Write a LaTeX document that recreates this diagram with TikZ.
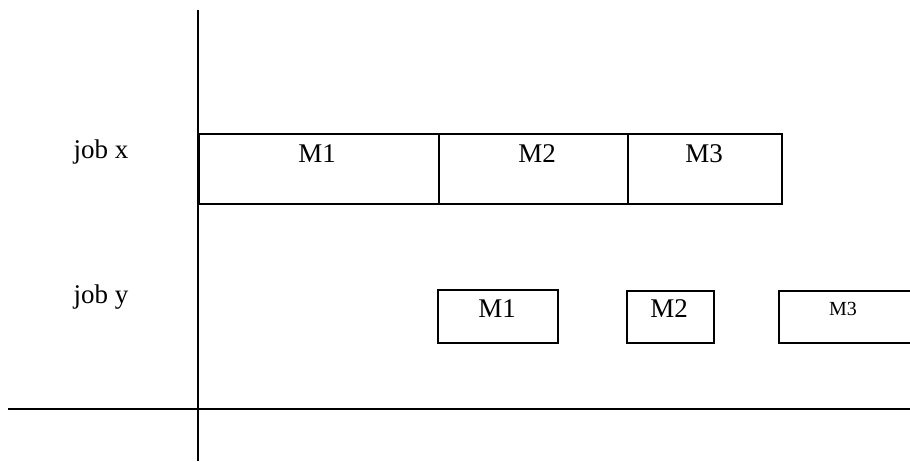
\documentclass[tikz,border=0pt]{standalone}
\usepackage{fontspec}
\setmainfont{Liberation Serif}
\begin{document}
\begin{tikzpicture}[x=1pt,y=-1pt,
  ln/.style={line width=2.2pt,black},
  bx/.style={draw,line width=2pt,inner sep=0pt,anchor=north west},
  lab/.style={font=\fontsize{27}{27}\selectfont,inner sep=0pt,anchor=base},
  smlab/.style={font=\fontsize{20}{20}\selectfont,inner sep=0pt,anchor=base}]
\useasboundingbox (0,0) rectangle (910,461);
\clip (0,0) rectangle (910,461);
% axes
\coordinate (vt) at (198,10);
\coordinate (vb) at (198,461);
\coordinate (hl) at (8,409);
\coordinate (hr) at (910,409);
\draw[ln] (vt) -- (vb);
\draw[ln] (hl) -- (hr);
% labels
\node[lab] (jx) at (101,158) {job x};
\node[lab] (jy) at (101,303) {job y};
% job x boxes
\node[bx,minimum width=240pt,minimum height=70pt] (x1) at (198,133) {};
\node[bx,minimum width=189pt,minimum height=70pt] (x2) at (438,133) {};
\node[bx,minimum width=154pt,minimum height=70pt] (x3) at (627,133) {};
\node[lab] (x1t) at (317,162) {M1};
\node[lab] (x2t) at (537,162) {M2};
\node[lab] (x3t) at (704,162) {M3};
% job y boxes
\node[bx,minimum width=120pt,minimum height=53pt] (y1) at (437,289) {};
\node[bx,minimum width=87pt,minimum height=52pt] (y2) at (626,290) {};
\node[lab] (y1t) at (497,317) {M1};
\node[lab] (y2t) at (669,317) {M2};
\coordinate (y3a) at (920,291);
\coordinate (y3b) at (779,291);
\coordinate (y3c) at (779,343);
\coordinate (y3d) at (920,343);
\draw[line width=2pt] (y3a) -- (y3b) -- (y3c) -- (y3d);
\node[smlab] (y3t) at (843,315) {M3};
\end{tikzpicture}
\end{document}
